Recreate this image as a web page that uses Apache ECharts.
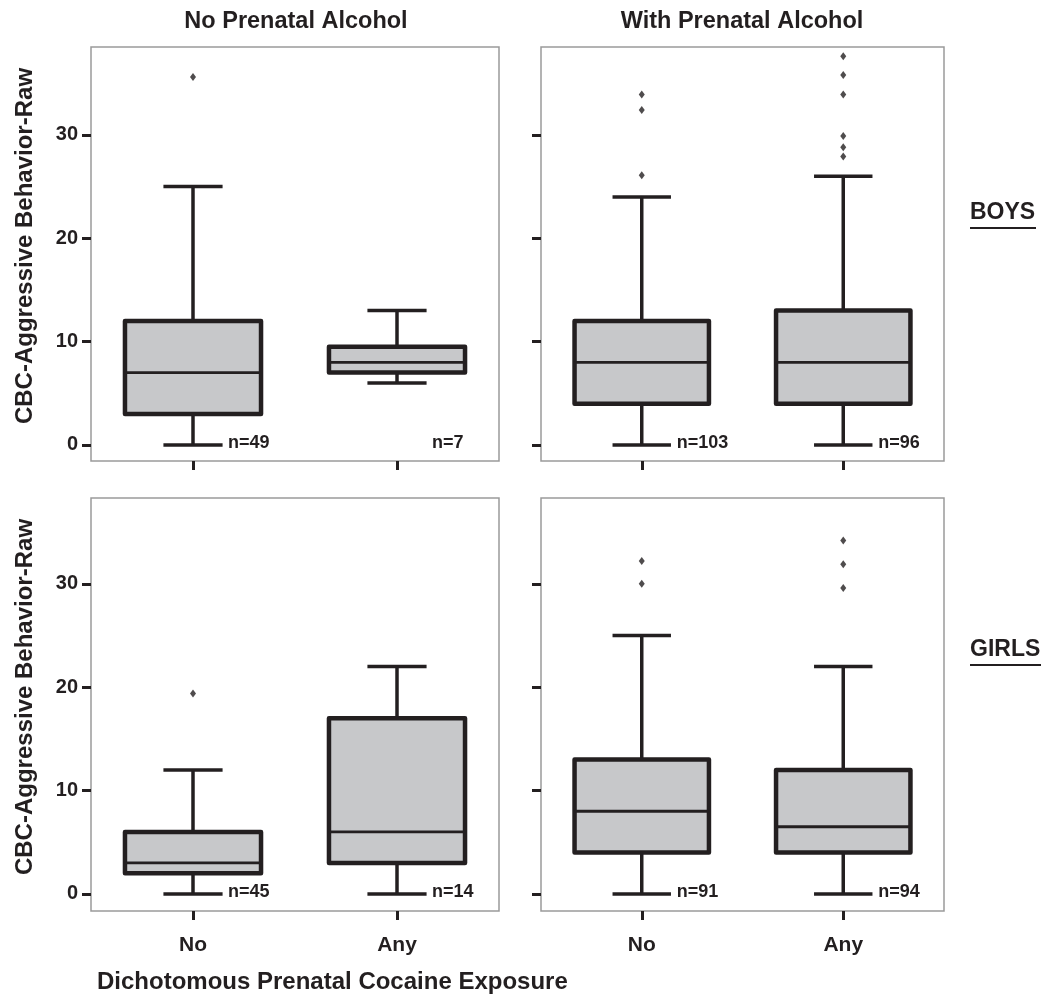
<!DOCTYPE html>
<html>
<head>
<meta charset="utf-8">
<script src="https://cdn.jsdelivr.net/npm/echarts@6/dist/echarts.min.js"></script>
<style>
html,body{margin:0;padding:0;background:#fff;}
#chart{width:1057px;height:994px;}
</style>
</head>
<body>
<div id="chart"></div>
<script>
// ---- data ----
const categories = ['No', 'Any'];
const yTickValues = [0, 10, 20, 30];
// [low whisker, Q1, median, Q3, high whisker]
const boysNoAlcohol = [[0, 3, 7, 12, 25], [6, 7, 8, 9.5, 13]];
const boysWithAlcohol = [[0, 4, 8, 12, 24], [0, 4, 8, 13, 26]];
const girlsNoAlcohol = [[0, 2, 3, 6, 12], [0, 3, 6, 17, 22]];
const girlsWithAlcohol = [[0, 4, 8, 13, 25], [0, 4, 6.5, 12, 22]];
// outliers: [category index, value]
const boysNoAlcoholOutliers = [[0, 35.6]];
const boysWithAlcoholOutliers = [[0, 26.1], [0, 32.4], [0, 33.9], [1, 27.9], [1, 28.8], [1, 29.9], [1, 33.9], [1, 35.8], [1, 37.6]];
const girlsNoAlcoholOutliers = [[0, 19.4]];
const girlsWithAlcoholOutliers = [[0, 30.0], [0, 32.2], [1, 29.6], [1, 31.9], [1, 34.2]];
// sample size labels
const boysNoAlcoholN = ['n=49', 'n=7'];
const boysWithAlcoholN = ['n=103', 'n=96'];
const girlsNoAlcoholN = ['n=45', 'n=14'];
const girlsWithAlcoholN = ['n=91', 'n=94'];
const panelTitles = ['No Prenatal Alcohol', 'With Prenatal Alcohol'];
const rowLabels = ['BOYS', 'GIRLS'];
const yAxisName = 'CBC-Aggressive Behavior-Raw';
const xAxisName = 'Dichotomous Prenatal Cocaine Exposure';

// ---- styling ----
const INK = '#231f20';
const FONT = '"Liberation Sans", Arial, sans-serif';

const panels = [
  { box: boysNoAlcohol, out: boysNoAlcoholOutliers, n: boysNoAlcoholN, grid: { left: 91, top: 47, width: 408, height: 414 }, ylab: true, xlab: false, ymin: -1.55, ymax: 38.5 },
  { box: boysWithAlcohol, out: boysWithAlcoholOutliers, n: boysWithAlcoholN, grid: { left: 541, top: 47, width: 403, height: 414 }, ylab: false, xlab: false, ymin: -1.55, ymax: 38.5 },
  { box: girlsNoAlcohol, out: girlsNoAlcoholOutliers, n: girlsNoAlcoholN, grid: { left: 91, top: 498, width: 408, height: 413 }, ylab: true, xlab: true, ymin: -1.65, ymax: 38.3 },
  { box: girlsWithAlcohol, out: girlsWithAlcoholOutliers, n: girlsWithAlcoholN, grid: { left: 541, top: 498, width: 403, height: 413 }, ylab: false, xlab: true, ymin: -1.65, ymax: 38.3 }
];

function renderBox(params, api) {
  const c = api.value(0);
  const lo = api.coord([c, api.value(1)]);
  const q1 = api.coord([c, api.value(2)]);
  const md = api.coord([c, api.value(3)]);
  const q3 = api.coord([c, api.value(4)]);
  const hi = api.coord([c, api.value(5)]);
  const band = api.size([1, 0])[0];
  const bw = band * 0.667, cw = band * 0.29;
  const x = lo[0];
  const whisk = { stroke: INK, lineWidth: 3.5 };
  const children = [
    { type: 'line', shape: { x1: x, y1: lo[1], x2: x, y2: q1[1] }, style: whisk },
    { type: 'line', shape: { x1: x, y1: q3[1], x2: x, y2: hi[1] }, style: whisk },
    { type: 'line', shape: { x1: x - cw / 2, y1: lo[1], x2: x + cw / 2, y2: lo[1] }, style: whisk },
    { type: 'line', shape: { x1: x - cw / 2, y1: hi[1], x2: x + cw / 2, y2: hi[1] }, style: whisk },
    { type: 'rect', shape: { x: x - bw / 2, y: q3[1], width: bw, height: q1[1] - q3[1] }, style: { fill: '#c7c8ca', stroke: INK, lineWidth: 4.5, lineJoin: 'round' } },
    { type: 'line', shape: { x1: x - bw / 2, y1: md[1], x2: x + bw / 2, y2: md[1] }, style: { stroke: INK, lineWidth: 2.8 } }
  ];
  return { type: 'group', children };
}

function makeRenderN(labels) {
  return function (params, api) {
    const c = api.value(0);
    const p = api.coord([c, 0]);
    return {
      type: 'text',
      style: {
        x: p[0] + 35, y: p[1] - 2,
        text: labels[params.dataIndex],
        fill: INK, font: 'bold 18px ' + FONT,
        align: 'left', verticalAlign: 'middle'
      }
    };
  };
}

const grid = [], xAxis = [], yAxis = [], series = [];
panels.forEach((p, i) => {
  grid.push(Object.assign({ show: true, borderColor: '#9a9a9a', borderWidth: 1.5, backgroundColor: 'transparent' }, p.grid));
  xAxis.push({
    gridIndex: i, type: 'category', data: categories, boundaryGap: true,
    axisLine: { show: false, onZero: false },
    axisTick: { show: true, alignWithLabel: true, length: 9, lineStyle: { color: INK, width: 3 } },
    axisLabel: { show: p.xlab, margin: 24, color: INK, fontFamily: FONT, fontWeight: 'bold', fontSize: 21 },
    splitLine: { show: false }
  });
  yAxis.push({
    gridIndex: i, type: 'value', min: p.ymin, max: p.ymax,
    axisLine: { show: false, onZero: false },
    axisTick: { show: true, length: 9, lineStyle: { color: INK, width: 3 }, customValues: yTickValues },
    axisLabel: { show: p.ylab, margin: 13, color: INK, fontFamily: FONT, fontWeight: 'bold', fontSize: 20, customValues: yTickValues },
    splitLine: { show: false }
  });
  series.push({
    type: 'custom', xAxisIndex: i, yAxisIndex: i,
    data: p.box.map((b, k) => [k].concat(b)),
    encode: { x: 0, y: [1, 2, 3, 4, 5] },
    renderItem: renderBox, silent: true, z: 2
  });
  series.push({
    type: 'scatter', xAxisIndex: i, yAxisIndex: i,
    data: p.out, symbol: 'diamond', symbolSize: [6, 8],
    itemStyle: { color: INK }, silent: true, z: 3
  });
  series.push({
    type: 'custom', xAxisIndex: i, yAxisIndex: i,
    data: p.n.map((t, k) => [k, 0]),
    encode: { x: 0, y: 1 },
    renderItem: makeRenderN(p.n), silent: true, z: 4
  });
});

const textStyle = (size) => ({ fill: INK, font: 'bold ' + size + 'px ' + FONT });
const graphic = [
  { type: 'text', x: 296, y: 22, style: Object.assign(textStyle(23.5), { text: panelTitles[0], align: 'center', verticalAlign: 'middle' }) },
  { type: 'text', x: 742, y: 22, style: Object.assign(textStyle(23.5), { text: panelTitles[1], align: 'center', verticalAlign: 'middle' }) },
  { type: 'text', x: 25, y: 246, rotation: Math.PI / 2, style: Object.assign(textStyle(24), { text: yAxisName, align: 'center', verticalAlign: 'middle' }) },
  { type: 'text', x: 25, y: 697, rotation: Math.PI / 2, style: Object.assign(textStyle(24), { text: yAxisName, align: 'center', verticalAlign: 'middle' }) },
  { type: 'text', x: 97, y: 982, style: Object.assign(textStyle(24), { text: xAxisName, align: 'left', verticalAlign: 'middle' }) },
  { type: 'text', x: 970, y: 213, style: Object.assign(textStyle(23), { text: rowLabels[0], align: 'left', verticalAlign: 'middle' }) },
  { type: 'line', shape: { x1: 970, y1: 228, x2: 1036, y2: 228 }, style: { stroke: INK, lineWidth: 2 } },
  { type: 'text', x: 970, y: 650, style: Object.assign(textStyle(23), { text: rowLabels[1], align: 'left', verticalAlign: 'middle' }) },
  { type: 'line', shape: { x1: 970, y1: 665, x2: 1041, y2: 665 }, style: { stroke: INK, lineWidth: 2 } }
];

const chart = echarts.init(document.getElementById('chart'), null, { renderer: 'canvas' });
chart.setOption({
  animation: false,
  backgroundColor: '#fff',
  grid, xAxis, yAxis, series, graphic
});
</script>
</body>
</html>
